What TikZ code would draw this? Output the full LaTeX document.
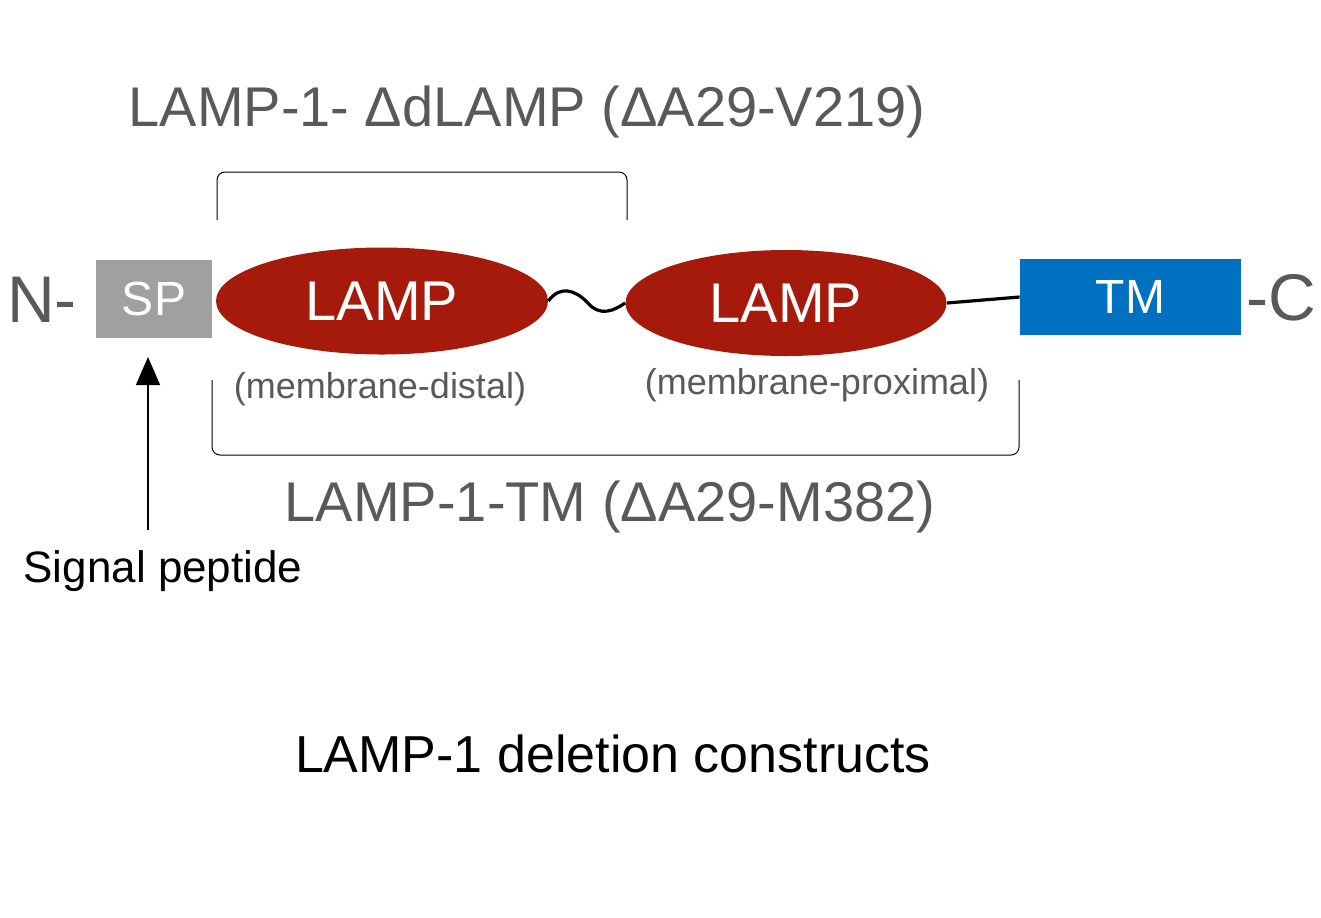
\documentclass[tikz,border=0pt]{standalone}
\usepackage{fontspec}
\setmainfont{Liberation Sans}
\usetikzlibrary{arrows.meta,shapes.geometric}
\definecolor{dred}{HTML}{A51A0A}
\definecolor{tmblue}{HTML}{0070C0}
\definecolor{spgray}{HTML}{A0A0A0}
\definecolor{txtgray}{HTML}{595959}
\begin{document}
\begin{tikzpicture}[x=0.5pt,y=-0.5pt,
  lbl/.style={text=txtgray,inner sep=0},
  dom/.style={fill=dred,draw=none,ellipse,text=white,font=\fontsize{28}{30}\selectfont},
  box/.style={draw=none,text=white,font=\fontsize{24}{26}\selectfont},
  brk/.style={draw=black,line width=0.5pt,rounded corners=4pt}]
\useasboundingbox (0,0) rectangle (1321,917);
\node[lbl,font=\fontsize{33}{35}\selectfont] (N) at (42,300) {N-};
\node[box,fill=spgray,minimum width=58pt,minimum height=39pt] (sp) at (154,299) {SP};
\node[dom,minimum width=166pt,minimum height=53.5pt] (l1) at (382,301) {LAMP};
\node[dom,minimum width=160.5pt,minimum height=53pt] (l2) at (786,303) {LAMP};
\node[box,fill=tmblue,minimum width=110.5pt,minimum height=38pt] (tm) at (1130.5,297) {TM};
\node[lbl,font=\fontsize{33}{35}\selectfont] (C) at (1281,298) {-C};
\draw[line width=1.6pt] (l1.east) .. controls (560,285) and (575,290) .. (587,302) .. controls (600,318) and (615,310) .. (l2.west);
\draw[line width=1.6pt] (l2.east) -- (tm.west);
\coordinate (t1) at (217,220); \coordinate (t2) at (627,220);
\draw[brk] (t1) -- (217,172) -- (627,172) -- (t2);
\coordinate (b1) at (212,380); \coordinate (b2) at (1019,380);
\draw[brk] (b1) -- (212,455) -- (1019,455) -- (b2);
\node[lbl,font=\fontsize{28}{30}\selectfont] (top) at (527,112) {LAMP-1- ΔdLAMP (ΔA29-V219)};
\node[lbl,font=\fontsize{28}{30}\selectfont] (bot) at (610,507) {LAMP-1-TM (ΔA29-M382)};
\node[lbl,font=\fontsize{18}{20}\selectfont] (md) at (380,389) {(membrane-distal)};
\node[lbl,font=\fontsize{18}{20}\selectfont] (mp) at (817,385) {(membrane-proximal)};
\node[inner sep=0,font=\fontsize{22}{24}\selectfont] (sig) at (163,571) {Signal peptide};
\coordinate (a0) at (148,530);
\draw[line width=0.6pt,-{Triangle[length=14pt,width=12pt]}] (a0) -- (148,357);
\node[inner sep=0,font=\fontsize{26}{28}\selectfont] (title) at (613,754) {LAMP-1 deletion constructs};
\end{tikzpicture}
\end{document}
